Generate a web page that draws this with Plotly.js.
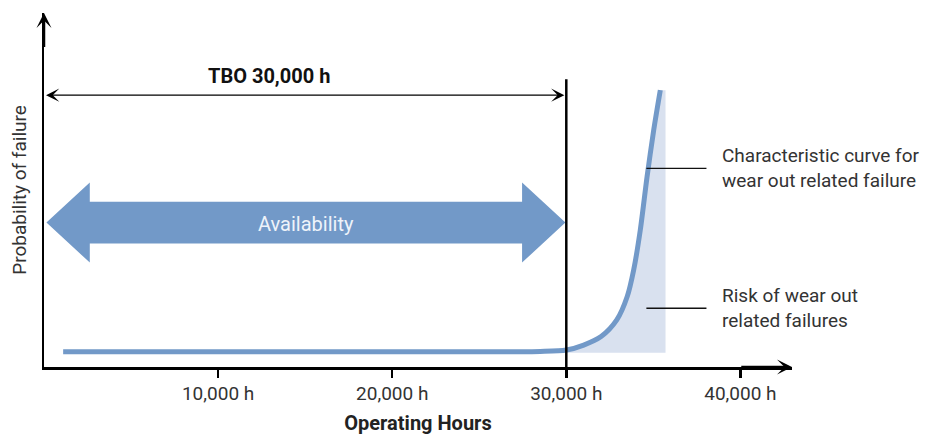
<!DOCTYPE html>
<html><head><meta charset="utf-8">
<script src="https://cdn.plot.ly/plotly-3.0.1.min.js"></script>
<style>html,body{margin:0;padding:0;background:#fff}#chart{width:936px;height:435px}</style>
</head><body><div id="chart"></div>
<script>
// ---- data ----
const curveHours = [1100, 10000, 20000, 26000, 28500, 30000, 31000, 32000, 32900, 33500, 33870, 34250, 34640, 35020, 35400];
const curveProb  = [4.3, 4.3, 4.3, 4.3, 4.4, 4.8, 6.2, 8.6, 13.3, 19.9, 27.4, 38.7, 53.8, 66.9, 78.2];
const riskStartHours = 29000;
const riskEndHours = 35700;
const riskBaseProb = 4.0;
const tickHours = [10000, 20000, 30000, 40000];
const tickLabels = ['10,000 h', '20,000 h', '30,000 h', '40,000 h'];
const tboHours = 30000;
const tboLabel = 'TBO 30,000 h';
const availLabel = 'Availability';
const availFromHours = 140;
const availToHours = 29950;
const availHeadHours = 2490;
const availLevel = 40.8;
const availBodyHalf = 5.9;
const availHeadHalf = 11.3;
const curveLabel = 'Characteristic curve for<br>wear out related failure';
const riskLabel = 'Risk of wear out<br>related failures';
const xTitle = 'Operating Hours';
const yTitle = 'Probability of failure';

const X_MAX = 42964, Y_MAX = 100;
const BLUE = '#7299c8', LIGHT = '#d9e1ef', FONT = 'Roboto, "Noto Sans", sans-serif';

// risk area polygon built from the curve
const riskX = [], riskY = [];
curveHours.forEach((h, i) => { if (h >= riskStartHours) { riskX.push(h); riskY.push(curveProb[i]); } });
riskX.push(riskEndHours, riskEndHours, riskStartHours);
riskY.push(curveProb[curveProb.length - 1], riskBaseProb, riskBaseProb);

// availability double arrow polygon
const a0 = availFromHours, a1 = availToHours, hl = availHeadHours, c = availLevel;
const availX = [a0, a0 + hl, a0 + hl, a1 - hl, a1 - hl, a1, a1 - hl, a1 - hl, a0 + hl, a0 + hl, a0];
const availY = [c, c + availHeadHalf, c + availBodyHalf, c + availBodyHalf, c + availHeadHalf, c,
                c - availHeadHalf, c - availBodyHalf, c - availBodyHalf, c - availHeadHalf, c];

const traces = [
  { x: riskX, y: riskY, type: 'scatter', mode: 'lines', fill: 'toself', fillcolor: LIGHT,
    line: { width: 0, color: LIGHT }, hoverinfo: 'skip', showlegend: false },
  { x: availX, y: availY, type: 'scatter', mode: 'lines', fill: 'toself', fillcolor: BLUE,
    line: { width: 0, color: BLUE }, hoverinfo: 'skip', showlegend: false },
  { x: curveHours, y: curveProb, type: 'scatter', mode: 'lines',
    line: { color: BLUE, width: 5, shape: 'spline', smoothing: 0.8 }, hoverinfo: 'skip', showlegend: false }
];

const layout = {
  width: 936, height: 435,
  margin: { l: 44, r: 144, t: 13, b: 68 },
  paper_bgcolor: '#fff', plot_bgcolor: '#fff',
  font: { family: FONT, color: '#333' },
  showlegend: false,
  xaxis: {
    range: [0, X_MAX], showgrid: false, zeroline: false,
    showline: true, linecolor: '#000', linewidth: 2.5,
    ticks: 'outside', ticklen: 8, tickwidth: 2.5, tickcolor: '#000',
    tickvals: tickHours, ticktext: tickLabels,
    tickfont: { size: 19, color: '#333', family: FONT },
    title: { text: xTitle, standoff: 20, font: { size: 20, color: '#222', family: FONT, weight: 'bold' } },
    fixedrange: true
  },
  yaxis: {
    range: [0, Y_MAX], showgrid: false, zeroline: false,
    showline: true, linecolor: '#000', linewidth: 2.5,
    showticklabels: false, ticks: '',
    title: { text: yTitle, standoff: 10, font: { size: 19, color: '#333', family: FONT } },
    fixedrange: true
  },
  shapes: [
    { type: 'line', xref: 'x', yref: 'y', x0: tboHours, x1: tboHours, y0: 0, y1: 81.3,
      line: { color: '#000', width: 2.5 }, layer: 'above' },
    { type: 'line', xref: 'x', yref: 'y', x0: 34600, x1: 38050, y0: 56.1, y1: 56.1,
      line: { color: '#111', width: 1.3 }, layer: 'above' },
    { type: 'line', xref: 'x', yref: 'y', x0: 34600, x1: 38050, y0: 16.6, y1: 16.6,
      line: { color: '#111', width: 1.3 }, layer: 'above' }
  ],
  annotations: [
    // axis arrowheads
    { x: X_MAX, y: 0, ax: X_MAX - 3000, ay: 0, xref: 'x', yref: 'y', axref: 'x', ayref: 'y',
      text: '', showarrow: true, arrowhead: 3, arrowsize: 1, arrowwidth: 2.5, arrowcolor: '#000' },
    { x: 0, y: Y_MAX, ax: 0, ay: Y_MAX - 10, xref: 'x', yref: 'y', axref: 'x', ayref: 'y',
      text: '', showarrow: true, arrowhead: 3, arrowsize: 1, arrowwidth: 2.5, arrowcolor: '#000' },
    // TBO double arrow
    { x: tboHours - 110, y: 76.8, ax: 30, ay: 76.8, xref: 'x', yref: 'y', axref: 'x', ayref: 'y',
      text: '', showarrow: true, arrowside: 'end+start', arrowhead: 3, startarrowhead: 3,
      arrowsize: 1.7, startarrowsize: 1.7, arrowwidth: 1.3, arrowcolor: '#000' },
    { x: 12950, y: 82.3, xref: 'x', yref: 'y', text: '<b>' + tboLabel + '</b>', showarrow: false,
      font: { size: 20, color: '#111', family: FONT }, xanchor: 'center', yanchor: 'middle' },
    { x: 15070, y: 40.4, xref: 'x', yref: 'y', text: availLabel, showarrow: false,
      font: { size: 20, color: '#eef3fa', family: FONT }, xanchor: 'center', yanchor: 'middle' },
    { x: 38800, y: 56.1, xref: 'x', yref: 'y', text: curveLabel, showarrow: false, align: 'left',
      font: { size: 19, color: '#333', family: FONT }, xanchor: 'left', yanchor: 'middle' },
    { x: 38800, y: 16.6, xref: 'x', yref: 'y', text: riskLabel, showarrow: false, align: 'left',
      font: { size: 19, color: '#333', family: FONT }, xanchor: 'left', yanchor: 'middle' }
  ]
};

Plotly.newPlot('chart', traces, layout, { displayModeBar: false, staticPlot: true });
</script>
</body></html>
